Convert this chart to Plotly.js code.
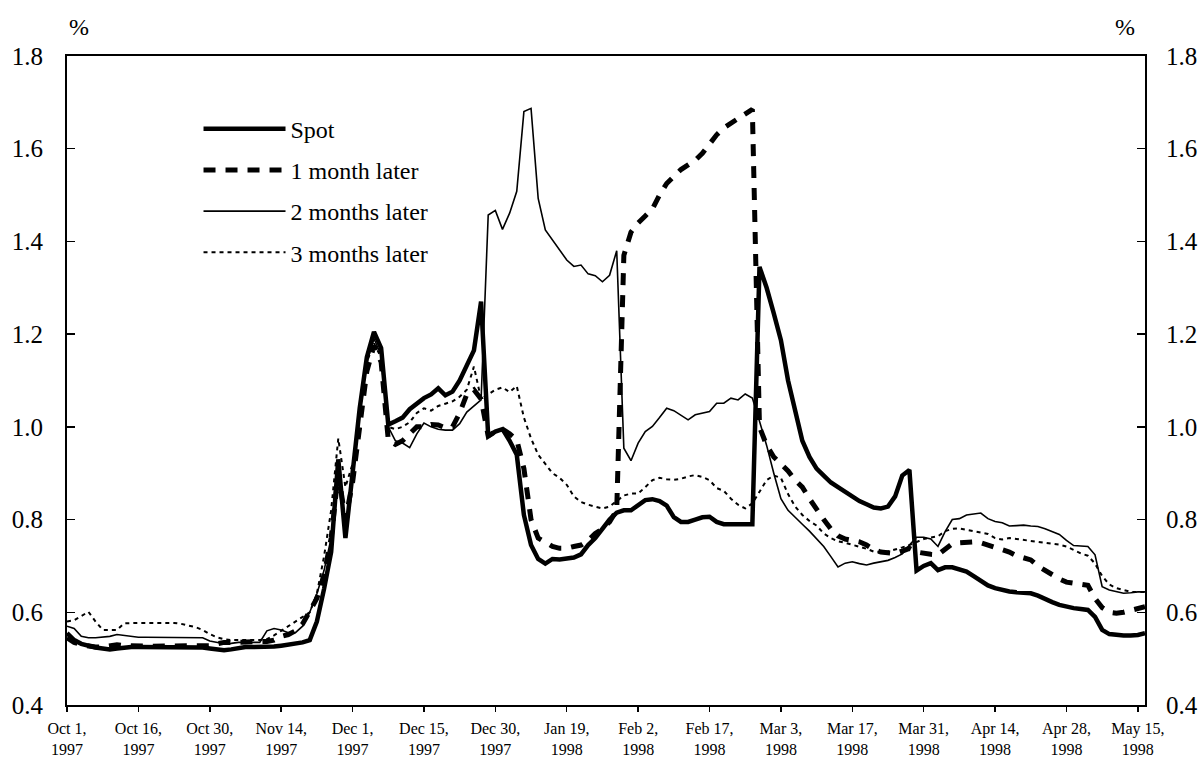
<!DOCTYPE html>
<html>
<head>
<meta charset="utf-8">
<script src="https://cdn.plot.ly/plotly-3.0.1.min.js"></script>
<style>html,body{margin:0;padding:0;background:#fff;}#chart{width:1203px;height:763px;}</style>
</head>
<body>
<div id="chart"></div>
<script>
// Tick labels: every 10th business day from Oct 1, 1997
var tickDates = ["Oct 1","Oct 16","Oct 30","Nov 14","Dec 1","Dec 15","Dec 30","Jan 19","Feb 2","Feb 17","Mar 3","Mar 17","Mar 31","Apr 14","Apr 28","May 15"];
var tickYears = ["1997","1997","1997","1997","1997","1997","1997","1998","1998","1998","1998","1998","1998","1998","1998","1998"];

// Series values (%), one value per business day
var spot = [
0.555,0.54,0.532,0.527,0.524,0.522,0.52,0.522,0.524,0.525,
0.525,0.525,0.525,0.525,0.525,0.525,0.525,0.525,0.525,0.524,
0.522,0.52,0.518,0.52,0.523,0.525,0.525,0.525,0.525,0.526,
0.528,0.53,0.532,0.535,0.54,0.58,0.65,0.73,
0.93,0.76,0.9,1.04,1.15,1.205,1.17,1.005,
1.012,1.02,1.038,1.05,1.062,1.07,1.083,1.068,1.076,1.1,1.135,1.165,1.27,0.98,
0.99,0.995,0.97,0.94,0.81,0.745,0.715,0.705,0.715,0.714,
0.716,0.718,0.725,0.745,0.76,0.78,0.8,0.815,0.82,0.82,
0.83,0.842,0.844,0.84,0.83,0.805,0.795,0.795,0.8,0.805,
0.806,0.795,0.79,0.79,0.79,0.79,0.79,1.345,1.3,1.245,
1.187,1.1,1.03,0.97,0.935,0.91,0.895,0.88,0.87,0.86,
0.85,0.84,0.833,0.826,0.824,0.828,0.85,0.895,0.907,0.69,
0.7,0.706,0.691,0.697,0.697,0.693,0.688,0.678,0.667,0.658,
0.652,0.648,0.645,0.643,0.642,0.641,0.636,0.628,0.622,0.616,
0.612,0.609,0.607,0.605,0.59,0.562,0.553,0.551,0.55,0.55,0.551,0.555];

var oneMonth = [
0.545,0.535,0.53,0.527,0.525,0.525,0.527,0.53,0.528,0.527,
0.527,0.527,0.527,0.527,0.527,0.527,0.527,0.527,0.527,0.527,
0.528,0.532,0.535,0.535,0.535,0.535,0.535,0.535,0.537,0.54,
0.548,0.552,0.56,0.575,0.6,0.63,0.68,0.76,
0.9,0.8,0.88,1.0,1.12,1.175,1.14,0.972,
0.962,0.97,0.985,1.0,1.0,1.005,1.004,0.998,1.0,1.03,1.07,1.08,1.06,0.98,
0.99,0.995,0.985,0.972,0.91,0.8,0.76,0.75,0.742,0.738,
0.738,0.742,0.745,0.755,0.77,0.78,0.795,0.82,1.37,1.42,
1.44,1.455,1.47,1.5,1.525,1.54,1.555,1.565,1.575,1.59,
1.61,1.63,1.645,1.655,1.665,1.675,1.685,1.0,0.96,0.935,
0.92,0.905,0.885,0.87,0.845,0.82,0.8,0.78,0.765,0.758,
0.755,0.752,0.745,0.735,0.73,0.728,0.727,0.732,0.738,0.73,
0.727,0.725,0.724,0.735,0.748,0.75,0.751,0.752,0.75,0.745,
0.741,0.735,0.73,0.722,0.717,0.713,0.7,0.69,0.68,0.672,
0.665,0.662,0.66,0.658,0.63,0.61,0.6,0.598,0.6,0.604,0.61,0.612];

var twoMonths = [
0.57,0.565,0.548,0.545,0.545,0.546,0.548,0.552,0.55,0.547,
0.546,0.546,0.546,0.546,0.546,0.546,0.546,0.546,0.546,0.545,
0.538,0.535,0.532,0.533,0.535,0.535,0.535,0.535,0.56,0.565,
0.562,0.556,0.556,0.57,0.6,0.64,0.69,0.76,
0.9,0.78,0.9,1.03,1.14,1.19,1.155,1.0,
0.97,0.965,0.955,0.985,1.008,1.0,0.995,0.993,0.993,1.007,1.032,1.045,1.058,1.457,
1.467,1.426,1.461,1.508,1.68,1.687,1.493,1.425,1.403,1.38,
1.36,1.346,1.349,1.33,1.326,1.313,1.327,1.38,0.954,0.927,
0.965,0.99,1.001,1.02,1.04,1.035,1.025,1.015,1.026,1.03,
1.033,1.051,1.051,1.062,1.058,1.071,1.062,1.012,0.96,0.9,
0.845,0.82,0.806,0.79,0.775,0.758,0.742,0.72,0.698,0.706,
0.709,0.705,0.702,0.706,0.709,0.712,0.718,0.726,0.745,0.762,
0.762,0.758,0.742,0.774,0.8,0.802,0.81,0.812,0.814,0.802,
0.796,0.793,0.786,0.787,0.788,0.786,0.785,0.78,0.774,0.768,
0.755,0.744,0.743,0.742,0.724,0.655,0.648,0.644,0.641,0.642,0.644,0.644];

var threeMonths = [
0.58,0.583,0.592,0.601,0.58,0.562,0.562,0.562,0.576,0.577,
0.577,0.577,0.577,0.577,0.577,0.577,0.575,0.572,0.568,0.562,
0.553,0.546,0.542,0.54,0.54,0.54,0.54,0.54,0.542,0.55,
0.56,0.57,0.58,0.59,0.6,0.64,0.72,0.82,
0.975,0.87,0.92,1.04,1.14,1.18,1.15,1.0,
0.995,1.0,1.01,1.03,1.04,1.035,1.045,1.05,1.055,1.065,1.08,1.13,1.06,1.07,
1.08,1.085,1.075,1.088,1.02,0.975,0.94,0.92,0.9,0.89,
0.875,0.85,0.838,0.832,0.828,0.824,0.828,0.84,0.852,0.856,
0.856,0.87,0.885,0.89,0.887,0.886,0.888,0.893,0.896,0.892,
0.885,0.868,0.862,0.845,0.832,0.824,0.835,0.86,0.885,0.895,
0.89,0.855,0.828,0.81,0.797,0.787,0.77,0.76,0.753,0.75,
0.746,0.742,0.737,0.731,0.73,0.731,0.735,0.74,0.745,0.752,
0.758,0.761,0.764,0.775,0.78,0.781,0.778,0.774,0.772,0.769,
0.76,0.757,0.76,0.758,0.756,0.754,0.752,0.751,0.749,0.746,
0.742,0.735,0.727,0.722,0.705,0.678,0.66,0.652,0.648,0.644,0.644,0.644];

var seriesNames = ["Spot","1 month later","2 months later","3 months later"];

// ---- build figure ----
var dayIndex = spot.map(function(_, i){ return i; });
var tickVals = tickDates.map(function(_, i){ return i * 10; });
var tickText = tickDates.map(function(d, i){ return d + ",<br>" + tickYears[i]; });

var styles = [
  {color:"black", width:4.5},
  {color:"black", width:5, dash:"12px,10px"},
  {color:"black", width:1.6},
  {color:"black", width:2, dash:"4px,4px"}
];
var values = [spot, oneMonth, twoMonths, threeMonths];

var traces = values.map(function(v, k){
  return {x: dayIndex, y: v, type:"scatter", mode:"lines", name: seriesNames[k],
          line: styles[k], hoverinfo:"skip", legendgroup:"g"+k};
});
traces.push({x:[], y:[], yaxis:"y2", type:"scatter", mode:"lines", showlegend:false, hoverinfo:"skip"});

var fontFam = "'Liberation Serif', 'Times New Roman', serif";
var yCommon = {range:[0.4,1.8], tick0:0.4, dtick:0.2, tickformat:".1f", ticks:"inside", ticklen:8,
               tickwidth:1.5, tickcolor:"black", showgrid:false, zeroline:false,
               tickfont:{size:25, family:fontFam, color:"black"}, fixedrange:true};

var layout = {
  width:1203, height:763,
  margin:{l:67, r:58, t:56, b:58, pad:0},
  paper_bgcolor:"white", plot_bgcolor:"white",
  font:{family:fontFam, color:"black"},
  showlegend:true,
  legend:{x:0.122, y:0.922, xanchor:"left", yanchor:"top", font:{size:24, family:fontFam, color:"black"},
          bgcolor:"rgba(0,0,0,0)", borderwidth:0, itemwidth:82, traceorder:"grouped", tracegroupgap:7},
  xaxis:{range:[0,151], tickmode:"array", tickvals:tickVals, ticktext:tickText,
         ticks:"outside", ticklen:5, tickwidth:1.5, tickcolor:"black",
         showline:true, linewidth:2, linecolor:"black", mirror:true,
         showgrid:false, zeroline:false, tickfont:{size:16, family:fontFam, color:"black"},
         ticklabelstandoff:3, fixedrange:true},
  yaxis:Object.assign({}, yCommon, {showline:true, linewidth:2, linecolor:"black", mirror:true, ticklabelstandoff:17}),
  yaxis2:Object.assign({}, yCommon, {overlaying:"y", side:"right", showline:false, ticklabelstandoff:20}),
  annotations:[
    {text:"%", xref:"paper", yref:"paper", x:0.011, y:1.045, xanchor:"center", yanchor:"middle", showarrow:false, font:{size:24, family:fontFam, color:"black"}},
    {text:"%", xref:"paper", yref:"paper", x:0.981, y:1.045, xanchor:"center", yanchor:"middle", showarrow:false, font:{size:24, family:fontFam, color:"black"}}
  ]
};

Plotly.newPlot("chart", traces, layout, {displayModeBar:false, staticPlot:true});
</script>
</body>
</html>
